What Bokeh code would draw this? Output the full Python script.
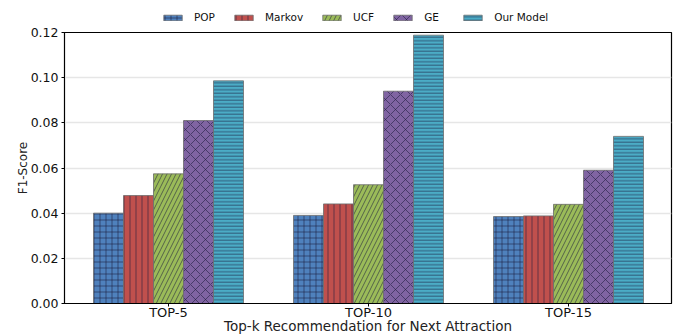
from bokeh.plotting import figure
from bokeh.layouts import column
from bokeh.models import ColumnDataSource, FixedTicker, Legend, LegendItem, Range1d
from bokeh.embed import file_html
from bokeh.resources import INLINE

# Top-k groups and the F1-score of each method
groups = ["TOP-5", "TOP-10", "TOP-15"]
methods = ["POP", "Markov", "UCF", "GE", "Our Model"]
pop = [0.040, 0.039, 0.0385]
markov = [0.0478, 0.0441, 0.0388]
ucf = [0.0574, 0.0526, 0.0439]
ge = [0.0810, 0.0940, 0.0590]
our_model = [0.0986, 0.1188, 0.0740]
y_ticks = [0.00, 0.02, 0.04, 0.06, 0.08, 0.10, 0.12]

series = [pop, markov, ucf, ge, our_model]
colors = ["#4f81bd", "#c0504d", "#9bbb59", "#8064a2", "#4bacc6"]
hatches = ["+", "|", "/", "x", "-"]
hatch_scales = [6, 6, 9, 10, 3.5]
offsets = [-0.3, -0.15, 0.0, 0.15, 0.3]
bar_w = 0.15

FONT = "DejaVu Sans"


def bar_style(col, h, hs):
    return dict(fill_color=col, line_color="#6d6d6d", line_width=0.8,
                hatch_pattern=h, hatch_color="#1a1a3a", hatch_alpha=0.55,
                hatch_scale=hs, hatch_weight=1)


p = figure(width=678, height=312, output_backend="svg", toolbar_location=None,
           x_range=Range1d(-0.52, 2.515), y_range=Range1d(0, 0.12),
           min_border_left=64, min_border_right=7, min_border_top=8,
           min_border_bottom=0)

# strip above the chart that only carries the legend; its own ranges keep
# the swatch renderers out of view
key = figure(width=678, height=24, output_backend="svg", toolbar_location=None,
             x_range=Range1d(100, 101), y_range=Range1d(100, 101),
             min_border=0, outline_line_color=None)
key.axis.visible = False
key.grid.visible = False

xs = list(range(len(groups)))
items = []
for name, vals, col, h, hs, off in zip(methods, series, colors, hatches, hatch_scales, offsets):
    src = ColumnDataSource(dict(x=[x + off for x in xs], top=vals))
    p.vbar(x="x", top="top", width=bar_w, source=src, **bar_style(col, h, hs))
    swatch = key.vbar(x="x", top="top", width=bar_w, source=src, **bar_style(col, h, hs))
    items.append(LegendItem(label=name, renderers=[swatch]))

# the column lines the key's frame up with the chart frame
legend = Legend(items=items, orientation="horizontal", location=(97, 1),
                border_line_alpha=0, background_fill_alpha=0,
                label_text_font=FONT, label_text_font_size="10.5px",
                label_text_color="#111111",
                glyph_width=23, glyph_height=7, label_standoff=10, spacing=17,
                padding=0, margin=0)
key.add_layout(legend)

p.xaxis.ticker = FixedTicker(ticks=xs)
p.xaxis.major_label_overrides = {i: g for i, g in enumerate(groups)}
p.yaxis.ticker = FixedTicker(ticks=y_ticks)
p.yaxis.major_label_overrides = {t: f"{t:.2f}" for t in y_ticks}

p.xaxis.axis_label = "Top-k Recommendation for Next Attraction"
p.yaxis.axis_label = "F1-Score"
for ax in (p.xaxis[0], p.yaxis[0]):
    ax.axis_label_text_font = FONT
    ax.axis_label_text_font_style = "normal"
    ax.major_label_text_font = FONT
    ax.major_label_text_color = "#111111"
    ax.axis_label_text_color = "#222222"
    ax.axis_line_color = "black"
    ax.major_tick_line_color = "black"
    ax.major_tick_in = 0
    ax.major_tick_out = 3
    ax.minor_tick_line_color = None
p.xaxis.major_label_text_font_size = "13px"
p.xaxis.axis_label_text_font_size = "13.5px"
p.xaxis.major_label_standoff = -2
p.xaxis.axis_label_standoff = -5
p.yaxis.major_label_text_font_size = "12.5px"
p.yaxis.axis_label_text_font_size = "12px"
p.yaxis.major_label_standoff = 3
p.yaxis.axis_label_standoff = -2

p.xgrid.grid_line_color = None
p.ygrid.grid_line_color = "#e6e6e6"
p.ygrid.grid_line_width = 1.5
p.outline_line_color = "black"
p.outline_line_width = 1.2

layout = column(key, p, spacing=0)
open("out.html", "w").write(file_html(layout, INLINE))
